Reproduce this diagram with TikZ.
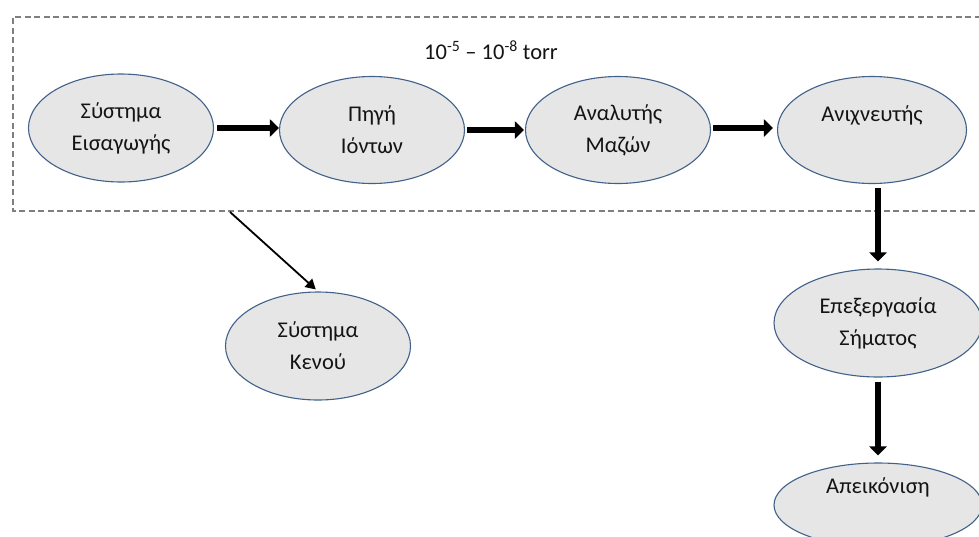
\documentclass[tikz,border=0pt]{standalone}
\usepackage{fontspec}
\setmainfont{Carlito}
\usetikzlibrary{arrows.meta,shapes.geometric}
\definecolor{stagefill}{HTML}{E7E6E6}
\definecolor{stageline}{HTML}{41618A}
\definecolor{boxline}{HTML}{7F7F7F}
\definecolor{inktext}{HTML}{141414}
\begin{document}
\begin{tikzpicture}[x=1pt,y=-1pt,
  stage/.style={ellipse, draw=stageline, line width=1.1pt, fill=stagefill,
    inner sep=0pt, minimum width=185pt, minimum height=108pt,
    align=center, text=inktext, font=\fontsize{22.5}{32}\selectfont},
  flow/.style={line width=6.5pt, -{Triangle[width=17pt,length=9pt]}},
  thinflow/.style={line width=1.8pt, -{Triangle[width=11pt,length=10pt]}},
  chamber/.style={draw=boxline, line width=2pt, dash pattern=on 6pt off 3.5pt}]
\clip (0,0) rectangle (979,536);
\fill[white] (0,0) rectangle (979,536);

% high-vacuum region
\draw[chamber] (990,17) -- (12.5,17) -- (12.5,211) -- (990,211);
\node[text=inktext, font=\fontsize{22.5}{26}\selectfont] (pressure) at (491,50)
  {10\textsuperscript{-5} – 10\textsuperscript{-8} torr};
\coordinate (pump) at (230,212);

% stages of the instrument
\node[stage] (inlet)    at (121,128) {Σύστημα\\Εισαγωγής};
\node[stage, minimum height=107pt] (source)   at (372,130) {Πηγή\\Ιόντων};
\node[stage, minimum height=107pt] (analyzer) at (618,130) {Αναλυτής\\Μαζών};
\node[stage, minimum width=189pt, minimum height=107pt] (detector) at (872,130) {Ανιχνευτής\\\mbox{}};
\node[stage] (vacuum)   at (318,346) {Σύστημα\\Κενού};
\node[stage, minimum width=208pt] (signal)  at (878,323) {Επεξεργασία\\Σήματος};
\node[stage, minimum width=208pt, minimum height=84pt] (display) at (878,505) {Απεικόνιση\\[6pt]\mbox{}};

% connectors
\draw[flow, shorten <=3pt] (inlet.east) -- (inlet.east -| source.west);
\draw[flow, shorten <=2pt, shorten >=1pt] (source.east) -- (source.east -| analyzer.west);
\draw[flow, shorten <=2pt, shorten >=4pt] (analyzer.east |- 128,128) -- (detector.west |- 128,128);
\draw[flow, shorten <=4pt, shorten >=7pt] (signal.north |- detector.south) -- (signal.north);
\draw[flow, shorten <=4pt, shorten >=7pt] (signal.south) -- (display.north);
\draw[thinflow, shorten >=3pt] (pump) -- (vacuum.north);
\end{tikzpicture}
\end{document}
